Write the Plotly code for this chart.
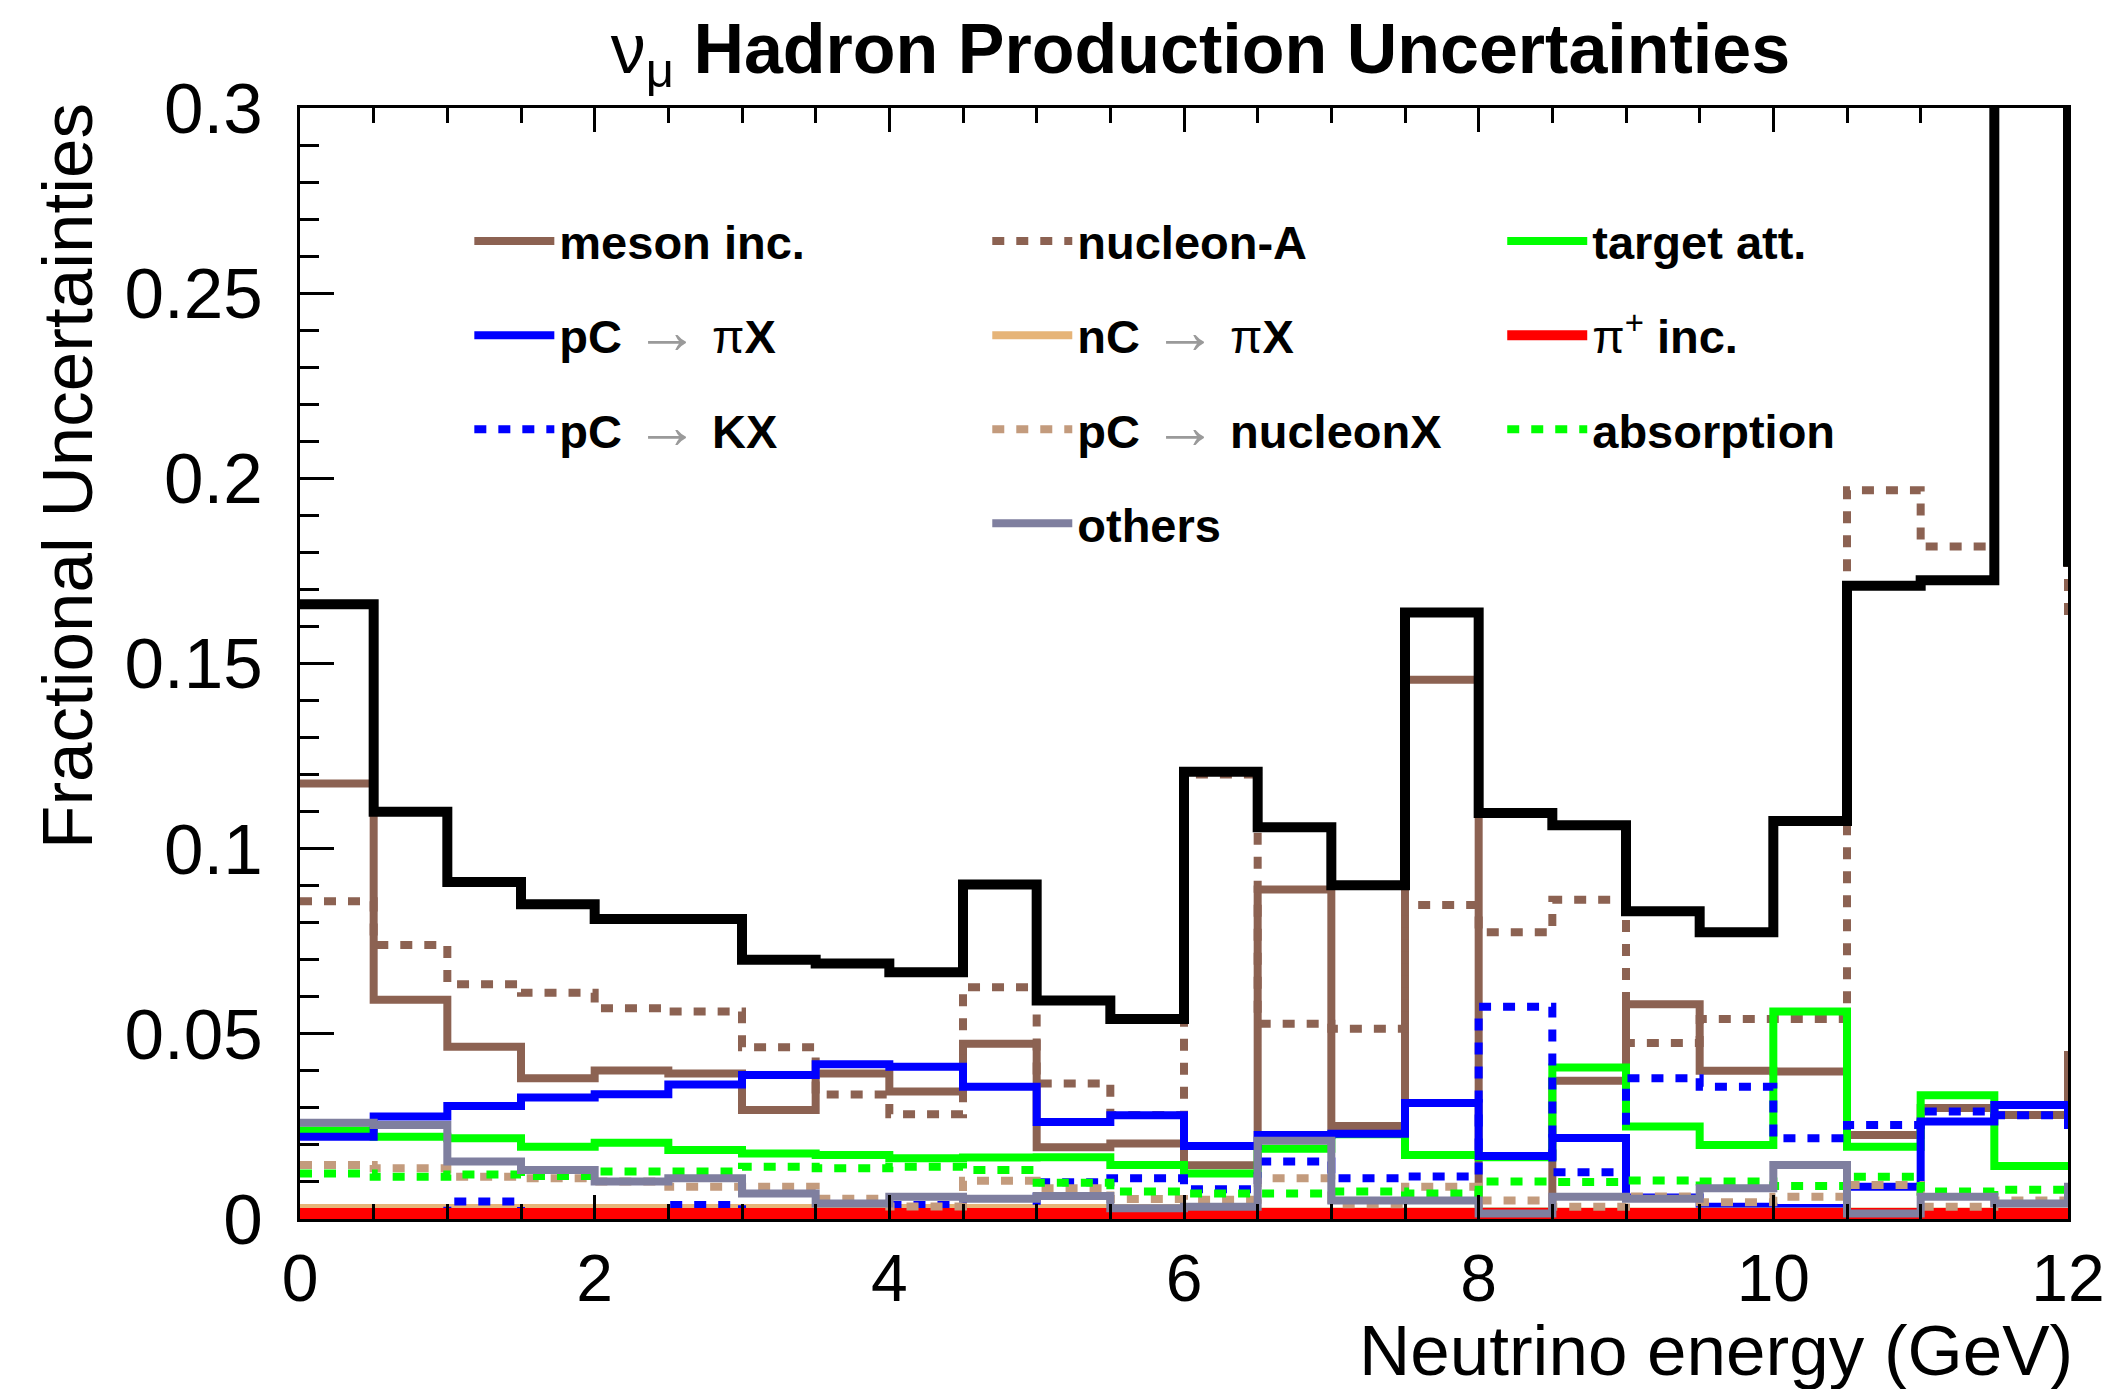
import plotly.graph_objects as go

# ---------------- data (bin contents, 0.5 GeV bins from 0 to 12, plus the bin just past 12) -------------
bin_edges = [0.0, 0.5, 1.0, 1.5, 2.0, 2.5, 3.0, 3.5, 4.0, 4.5, 5.0, 5.5, 6.0,
             6.5, 7.0, 7.5, 8.0, 8.5, 9.0, 9.5, 10.0, 10.5, 11.0, 11.5, 12.0, 12.5]

total = [0.166, 0.110, 0.091, 0.085, 0.081, 0.081, 0.070, 0.069, 0.0666, 0.0903,
         0.059, 0.054, 0.1208, 0.1058, 0.0901, 0.1638, 0.1096, 0.1063, 0.0831, 0.0774,
         0.1075, 0.171, 0.1725, 0.35, 0.1775]
meson_inc = [0.1176, 0.0592, 0.0465, 0.038, 0.0401, 0.0393, 0.0294, 0.0393, 0.0344, 0.0473,
             0.0194, 0.0204, 0.0145, 0.089, 0.0251, 0.1456, 0.002, 0.0373, 0.058, 0.040,
             0.0398, 0.0227, 0.030, 0.0281, 0.0443]
nucleon_A = [0.0858, 0.074, 0.0634, 0.0611, 0.0569, 0.056, 0.0464, 0.0336, 0.0283, 0.0626,
             0.0366, 0.0281, 0.12, 0.0527, 0.0514, 0.0848, 0.0774, 0.0862, 0.0475, 0.054,
             0.054, 0.1968, 0.1816, 0.32, 0.161]
target_att = [0.0239, 0.0222, 0.0218, 0.0195, 0.0206, 0.0186, 0.0177, 0.0173, 0.0164, 0.0166,
              0.0167, 0.0146, 0.0123, 0.019, 0.0229, 0.0173, 0.0167, 0.0409, 0.025, 0.020,
              0.056, 0.0195, 0.0334, 0.0143, 0.0143]
pC_piX = [0.0222, 0.0277, 0.0305, 0.0328, 0.0337, 0.0363, 0.0389, 0.0418, 0.0411, 0.0357,
          0.0262, 0.0280, 0.0197, 0.0227, 0.023, 0.0313, 0.017, 0.0219, 0.0058, 0.0033,
          0.003, 0.0087, 0.0263, 0.0308, 0.0254]
nC_piX = [0.003, 0.003, 0.003, 0.003, 0.003, 0.003, 0.003, 0.003, 0.003, 0.003,
          0.003, 0.003, 0.002, 0.002, 0.002, 0.002, 0.002, 0.002, 0.002, 0.002,
          0.002, 0.002, 0.002, 0.002, 0.002]
piplus_inc = [0.0015, 0.0015, 0.0015, 0.0015, 0.0015, 0.0015, 0.0015, 0.0015, 0.0015, 0.0015,
              0.0015, 0.0015, 0.0015, 0.0015, 0.0015, 0.0015, 0.0015, 0.0015, 0.0015, 0.0015,
              0.0015, 0.0015, 0.0015, 0.0015, 0.0015]
pC_KX = [0.001, 0.001, 0.0047, 0.001, 0.001, 0.0038, 0.001, 0.001, 0.0038, 0.001,
         0.0099, 0.011, 0.008, 0.0155, 0.011, 0.0115, 0.0573, 0.0126, 0.038, 0.0357,
         0.0218, 0.0254, 0.029, 0.028, 0.028]
pC_nucleonX = [0.0146, 0.0137, 0.0114, 0.011, 0.0101, 0.0087, 0.0087, 0.0055, 0.0034, 0.0103,
               0.0083, 0.0054, 0.0052, 0.011, 0.004, 0.0087, 0.005, 0.0033, 0.0061, 0.0045,
               0.006, 0.0092, 0.0033, 0.005, 0.005]
absorption = [0.0123, 0.0114, 0.012, 0.0116, 0.0128, 0.0128, 0.0141, 0.0137, 0.0141, 0.0132,
              0.0098, 0.0074, 0.0069, 0.0069, 0.0074, 0.0069, 0.0101, 0.0100, 0.0104, 0.0101,
              0.0089, 0.0114, 0.0074, 0.0079, 0.0079]
others = [0.026, 0.0254, 0.0155, 0.0132, 0.0101, 0.011, 0.0069, 0.0042, 0.006, 0.0055,
          0.0062, 0.0029, 0.0033, 0.0211, 0.005, 0.005, 0.0015, 0.006, 0.0055, 0.0083,
          0.0146, 0.0015, 0.006, 0.0042, 0.0087]

x_ticks = [0, 2, 4, 6, 8, 10, 12]

ARROW = '<span style="color:#9a9a9a;font-size:64px">→</span>'

# name, values, colour, dash, width, legend column  (drawing order)
series = [
    ("<b>meson inc.</b>", meson_inc, "#8c6252", "solid", 8, "legend"),
    ("<b>nucleon-A</b>", nucleon_A, "#8c6252", "12px,12px", 8, "legend2"),
    ("<b>target att.</b>", target_att, "#00ff00", "solid", 8, "legend3"),
    ("<b>pC</b> " + ARROW + " π<b>X</b>", pC_piX, "#0000ff", "solid", 8, "legend"),
    ("<b>nC</b> " + ARROW + " π<b>X</b>", nC_piX, "#e6b478", "solid", 8, "legend2"),
    ("<b>pC</b> " + ARROW + " <b>KX</b>", pC_KX, "#0000ff", "12px,12px", 8, "legend"),
    ("π<sup>+</sup> <b>inc.</b>", piplus_inc, "#ff0000", "solid", 11, "legend3"),
    ("<b>pC</b> " + ARROW + " <b>nucleonX</b>", pC_nucleonX, "#c39b7d", "12px,12px", 8, "legend2"),
    ("<b>absorption</b>", absorption, "#00ff00", "12px,12px", 8, "legend3"),
    ("<b>others</b>", others, "#7f7f9f", "solid", 8, "legend2"),
]

FONT = "Liberation Sans, Arial, Helvetica, sans-serif"

fig = go.Figure()
for i, (name, vals, col, dash, w, leg) in enumerate(series):
    fig.add_trace(go.Scatter(
        x=bin_edges, y=vals + [vals[-1]], mode="lines", name=name,
        line=dict(shape="hv", color=col, width=w, dash=dash),
        legend=leg, legendgroup="g%d" % i, hoverinfo="skip"))

fig.add_trace(go.Scatter(
    x=bin_edges, y=total + [total[-1]], mode="lines", name="total",
    line=dict(shape="hv", color="black", width=10), showlegend=False, hoverinfo="skip"))

W, H = 2117, 1389
L, R, T, B = 300, 42, 108, 170
pw, ph = W - L - R, H - T - B


def px_x(p):
    return (p - L) / pw


def px_y(p):
    return (H - B - p) / ph


leg_common = dict(font=dict(family=FONT, size=47, color="black"), bgcolor="rgba(0,0,0,0)",
                  xanchor="left", yanchor="top", tracegroupgap=30, itemwidth=80,
                  traceorder="grouped")

fig.update_layout(
    width=W, height=H,
    margin=dict(l=L, r=R, t=T, b=B, pad=0),
    paper_bgcolor="white", plot_bgcolor="white",
    font=dict(family=FONT, color="black"),
    title=dict(text="ν<sub>μ</sub> <b>Hadron Production Uncertainties</b>",
               font=dict(family=FONT, size=70, color="black"),
               x=px_x(1204), xref="paper", xanchor="center",
               y=1 - 48 / H, yref="container", yanchor="middle"),
    legend=dict(x=px_x(470), y=px_y(204), **leg_common),
    legend2=dict(x=px_x(990), y=px_y(204), **leg_common),
    legend3=dict(x=px_x(1507), y=px_y(204), **leg_common),
    xaxis=dict(range=[0, 12], tickvals=x_ticks, ticks="inside", ticklen=24, tickwidth=3,
               tickcolor="black", showline=True, linecolor="black", linewidth=3,
               mirror="ticks", showgrid=False, zeroline=False,
               tickfont=dict(family=FONT, size=66, color="black"),
               minor=dict(dtick=0.5, ticks="inside", ticklen=15, tickwidth=3,
                          tickcolor="black", showgrid=False)),
    yaxis=dict(range=[0, 0.3], dtick=0.05, ticks="inside", ticklen=34, tickwidth=3,
               tickcolor="black", showline=True, linecolor="black", linewidth=3,
               mirror=True, showgrid=False, zeroline=False, ticklabelstandoff=20,
               tickfont=dict(family=FONT, size=71, color="black"),
               minor=dict(dtick=0.01, ticks="inside", ticklen=19, tickwidth=3,
                          tickcolor="black", showgrid=False)),
    annotations=[
        dict(text="Fractional Uncertainties", textangle=-90, showarrow=False,
             xref="paper", yref="paper", x=px_x(67), y=px_y(101),
             xanchor="center", yanchor="top",
             font=dict(family=FONT, size=71, color="black")),
        dict(text="Neutrino energy (GeV)", showarrow=False,
             xref="paper", yref="paper", x=px_x(2082), y=px_y(1350),
             xanchor="right", yanchor="middle",
             font=dict(family=FONT, size=71, color="black")),
    ],
)

fig.write_html("out.html")
